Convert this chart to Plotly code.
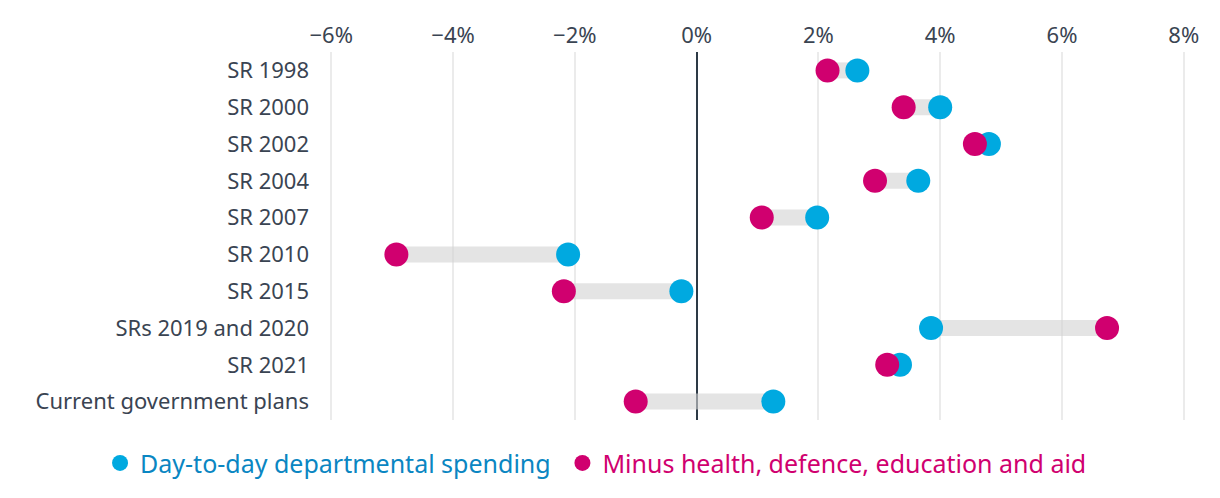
import plotly.graph_objects as go

categories = ["SR 1998", "SR 2000", "SR 2002", "SR 2004", "SR 2007", "SR 2010",
              "SR 2015", "SRs 2019 and 2020", "SR 2021", "Current government plans"]
day_to_day = [2.64, 4.0, 4.8, 3.64, 1.98, -2.11, -0.25, 3.85, 3.34, 1.26]
minus_hdea = [2.15, 3.4, 4.57, 2.93, 1.07, -4.93, -2.18, 6.74, 3.13, -1.0]
tick_vals = [-6, -4, -2, 0, 2, 4, 6, 8]
tick_text = ["\u22126%", "\u22124%", "\u22122%", "0%", "2%", "4%", "6%", "8%"]

BLUE = "#00a9e0"
MAGENTA = "#d0006f"
TEXT = "#3a4452"
FONT = "Noto Sans"

fig = go.Figure()

cx, cy = [], []
for c, a, b in zip(categories, day_to_day, minus_hdea):
    cx += [a, b, None]
    cy += [c, c, None]
fig.add_trace(go.Scatter(x=cx, y=cy, mode="lines",
                         line=dict(color="rgba(210,210,210,0.6)", width=16),
                         showlegend=False, hoverinfo="skip"))

fig.add_trace(go.Scatter(x=day_to_day, y=categories, mode="markers",
                         name='<span style="color:#0a86c2">Day-to-day departmental spending</span>',
                         marker=dict(color=BLUE, size=24), legend="legend"))
fig.add_trace(go.Scatter(x=minus_hdea, y=categories, mode="markers",
                         name='<span style="color:#d0006f">Minus health, defence, education and aid</span>',
                         marker=dict(color=MAGENTA, size=24), legend="legend2"))

leg_common = dict(orientation="h", xref="container", yref="container",
                  xanchor="left", y=0.07, yanchor="middle",
                  font=dict(size=25), itemsizing="trace", itemwidth=30,
                  bgcolor="rgba(0,0,0,0)")
fig.update_layout(
    width=1220, height=498,
    margin=dict(l=330, r=35, t=52, b=78, autoexpand=False),
    plot_bgcolor="white", paper_bgcolor="white",
    font=dict(family=FONT, size=22, color=TEXT),
    legend=dict(x=0.082, **leg_common),
    legend2=dict(x=0.461, **leg_common),
    showlegend=True,
)
fig.update_xaxes(side="top", range=[-6.02, 8.02], tickvals=tick_vals, ticktext=tick_text,
                 showgrid=True, gridcolor="#ebebeb", gridwidth=2,
                 zeroline=True, zerolinecolor="#2d3a46", zerolinewidth=2,
                 ticks="", tickfont=dict(size=22, color=TEXT), showline=False,
                 ticklabelstandoff=4)
fig.update_yaxes(categoryorder="array", categoryarray=categories, range=[9.5, -0.5],
                 showgrid=False, ticks="", ticklabelstandoff=20,
                 tickfont=dict(size=22, color=TEXT), zeroline=False)

fig.write_html("out.html")
